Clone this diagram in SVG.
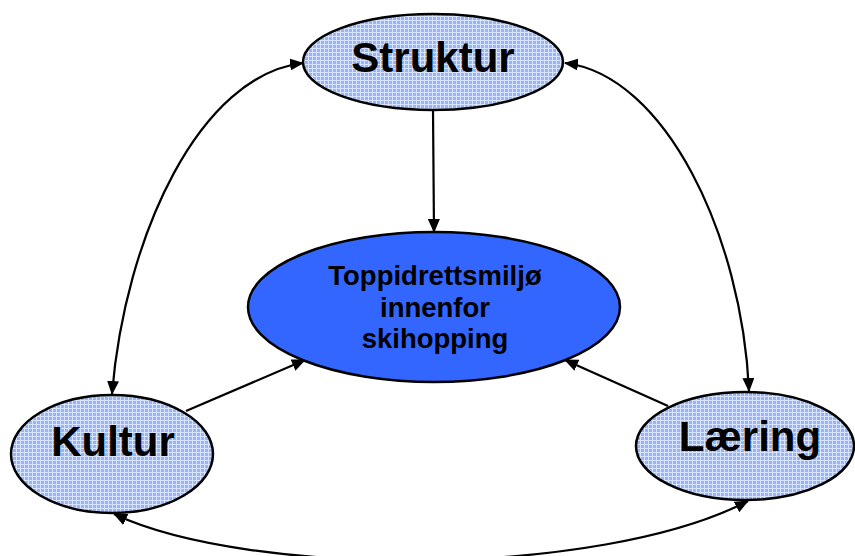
<svg xmlns="http://www.w3.org/2000/svg" width="855" height="556" viewBox="0 0 855 556">
  <style>
    .node { stroke: #000; stroke-width: 2.5; }
    .side { fill: url(#mesh); }
    .core { fill: #3366ff; }
    .big { font-family: "Liberation Sans", Arial, sans-serif; font-weight: bold; font-size: 42px; fill: #000; text-anchor: middle; }
    .small { font-family: "Liberation Sans", Arial, sans-serif; font-weight: bold; font-size: 27.5px; fill: #000; text-anchor: middle; }
    .link { fill: none; stroke: #000; stroke-width: 2.2; }
  </style>
  <defs>
    <!-- fine light-blue mesh fill for the outer ellipses -->
    <pattern id="mesh" width="4" height="4" patternUnits="userSpaceOnUse">
      <rect width="4" height="4" fill="#98b4f7"/>
      <rect x="0" y="0" width="4" height="1" fill="#d8e4fd"/>
      <rect x="0" y="0" width="1" height="4" fill="#d8e4fd"/>
    </pattern>
    <marker id="arrow" viewBox="0 0 14 12" refX="13" refY="6" markerWidth="14" markerHeight="12" markerUnits="userSpaceOnUse" orient="auto-start-reverse">
      <path d="M0,0 L14,6 L0,12 z" fill="#000"/>
    </marker>
  </defs>

  <g id="connectors">
    <path class="link" d="M433,110 L434,232" marker-end="url(#arrow)"/>
    <path class="link" d="M303,63 C200,75 125,235 112,394" marker-start="url(#arrow)" marker-end="url(#arrow)"/>
    <path class="link" d="M565,63 C665,75 742,235 749,391" marker-start="url(#arrow)" marker-end="url(#arrow)"/>
    <path class="link" d="M186,411 L305,360" marker-end="url(#arrow)"/>
    <path class="link" d="M668,406 L565,360" marker-end="url(#arrow)"/>
    <path class="link" d="M114,514 C250,578 600,578 748,501" marker-start="url(#arrow)" marker-end="url(#arrow)"/>
  </g>

  <g id="struktur">
    <ellipse class="node side" cx="433" cy="62" rx="130" ry="48"/>
    <text class="big" x="433" y="72">Struktur</text>
  </g>

  <g id="toppidrettsmiljo">
    <ellipse class="node core" cx="434" cy="307" rx="186" ry="75"/>
    <text class="small" x="435" y="285">Toppidrettsmiljø</text>
    <text class="small" x="435" y="317">innenfor</text>
    <text class="small" x="435" y="348">skihopping</text>
  </g>

  <g id="kultur">
    <ellipse class="node side" cx="112" cy="454" rx="101" ry="59"/>
    <text class="big" x="113" y="456">Kultur</text>
  </g>

  <g id="laering">
    <ellipse class="node side" cx="745" cy="446" rx="109" ry="54"/>
    <text class="big" x="750" y="451">Læring</text>
  </g>
</svg>
